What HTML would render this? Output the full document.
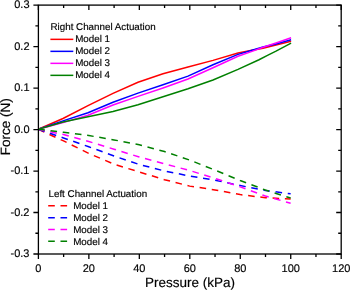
<!DOCTYPE html>
<html><head><meta charset="utf-8"><style>
html,body{margin:0;padding:0;background:#fff;}
body{width:350px;height:290px;overflow:hidden;}
svg{display:block;will-change:transform;text-rendering:geometricPrecision;font-family:"Liberation Sans",sans-serif;}
.tk{font-size:11px;fill:#000;stroke:#000;stroke-width:0.15px;}
.lg{font-size:9.8px;fill:#000;stroke:#000;stroke-width:0.15px;}
.tt{font-size:13.5px;fill:#000;stroke:#000;stroke-width:0.15px;}
</style></head><body>
<svg width="350" height="290" viewBox="0 0 350 290">
<rect width="350" height="290" fill="#fff"/>
<polyline points="38.30,129.30 63.00,118.50 88.00,105.60 113.00,93.40 138.00,82.20 163.00,73.70 188.00,67.00 213.00,60.40 238.00,53.00 252.00,50.30 263.00,48.20 276.00,45.00 291.10,41.30" fill="none" stroke="#ff0000" stroke-width="1.5"/><polyline points="38.30,129.30 63.00,120.90 88.00,112.70 113.00,102.30 138.00,93.10 163.00,84.80 188.00,76.10 213.00,64.80 238.00,54.40 252.00,50.20 263.00,46.90 276.00,43.90 291.10,39.70" fill="none" stroke="#0000ff" stroke-width="1.5"/><polyline points="38.30,129.30 63.00,122.60 88.00,115.20 113.00,105.00 138.00,96.40 163.00,88.00 188.00,79.00 213.00,67.70 238.00,56.20 252.00,51.40 263.00,47.20 276.00,43.00 291.10,37.80" fill="none" stroke="#ff00ff" stroke-width="1.5"/><polyline points="38.30,129.30 63.00,122.00 88.00,116.80 113.00,111.50 138.00,104.70 163.00,96.70 188.00,88.70 213.00,80.00 238.00,69.40 259.00,59.70 267.50,55.40 276.00,51.20 291.10,43.10" fill="none" stroke="#008000" stroke-width="1.5"/><polyline points="38.30,129.30 63.53,140.93 88.77,153.38 114.00,164.17 139.24,171.99 164.47,179.66 189.70,186.12 214.94,189.89 240.17,194.60 265.41,197.70 290.64,199.07" fill="none" stroke="#ff0000" stroke-width="1.5" stroke-dasharray="6.6 5.7"/><polyline points="38.30,129.30 63.53,137.93 88.77,146.76 114.00,155.99 139.24,164.45 164.47,170.95 189.70,176.04 214.94,180.21 240.17,185.54 265.41,190.54 290.64,193.84" fill="none" stroke="#0000ff" stroke-width="1.5" stroke-dasharray="6.6 5.7"/><polyline points="38.30,129.30 63.53,134.57 88.77,141.53 114.00,149.21 139.24,156.98 164.47,163.76 189.70,170.54 214.94,178.36 240.17,186.90 265.41,196.06 290.64,203.25" fill="none" stroke="#ff00ff" stroke-width="1.5" stroke-dasharray="6.6 5.7"/><polyline points="38.30,129.30 63.53,132.25 88.77,135.52 114.00,139.89 139.24,144.77 164.47,151.55 189.70,160.09 214.94,170.07 240.17,180.47 265.41,190.03 290.64,198.04" fill="none" stroke="#008000" stroke-width="1.5" stroke-dasharray="6.6 5.7"/>
<rect x="38.4" y="5.1" width="302.80" height="248.90" fill="none" stroke="#000" stroke-width="1.3"/><path d="M38.40,254.00v5 M38.40,5.10v5 M63.63,254.00v3 M63.63,5.10v3 M88.87,254.00v5 M88.87,5.10v5 M114.10,254.00v3 M114.10,5.10v3 M139.33,254.00v5 M139.33,5.10v5 M164.57,254.00v3 M164.57,5.10v3 M189.80,254.00v5 M189.80,5.10v5 M215.03,254.00v3 M215.03,5.10v3 M240.27,254.00v5 M240.27,5.10v5 M265.50,254.00v3 M265.50,5.10v3 M290.73,254.00v5 M290.73,5.10v5 M315.97,254.00v3 M315.97,5.10v3 M341.20,254.00v5 M341.20,5.10v5 M38.40,254.00h-5 M341.20,254.00h-5 M38.40,233.26h-3 M341.20,233.26h-3 M38.40,212.52h-5 M341.20,212.52h-5 M38.40,191.78h-3 M341.20,191.78h-3 M38.40,171.03h-5 M341.20,171.03h-5 M38.40,150.29h-3 M341.20,150.29h-3 M38.40,129.55h-5 M341.20,129.55h-5 M38.40,108.81h-3 M341.20,108.81h-3 M38.40,88.07h-5 M341.20,88.07h-5 M38.40,67.32h-3 M341.20,67.32h-3 M38.40,46.58h-5 M341.20,46.58h-5 M38.40,25.84h-3 M341.20,25.84h-3 M38.40,5.10h-5 M341.20,5.10h-5" stroke="#000" stroke-width="1.3" fill="none"/>
<g class="tk"><text x="38.40" y="271.5" text-anchor="middle">0</text><text x="88.87" y="271.5" text-anchor="middle">20</text><text x="139.33" y="271.5" text-anchor="middle">40</text><text x="189.80" y="271.5" text-anchor="middle">60</text><text x="240.27" y="271.5" text-anchor="middle">80</text><text x="290.73" y="271.5" text-anchor="middle">100</text><text x="341.20" y="271.5" text-anchor="middle">120</text><text x="29.5" y="257.30" text-anchor="end">-0.3</text><text x="29.5" y="215.82" text-anchor="end">-0.2</text><text x="29.5" y="174.33" text-anchor="end">-0.1</text><text x="29.5" y="132.85" text-anchor="end">0.0</text><text x="29.5" y="91.37" text-anchor="end">0.1</text><text x="29.5" y="49.88" text-anchor="end">0.2</text><text x="29.5" y="8.40" text-anchor="end">0.3</text></g>
<text x="50.5" y="30" class="lg">Right Channel Actuation</text><line x1="50.4" y1="39.35" x2="73.3" y2="39.35" stroke="#ff0000" stroke-width="1.5"/><text x="75.2" y="42.40" class="lg">Model 1</text><line x1="50.4" y1="51.35" x2="73.3" y2="51.35" stroke="#0000ff" stroke-width="1.5"/><text x="75.2" y="54.40" class="lg">Model 2</text><line x1="50.4" y1="63.35" x2="73.3" y2="63.35" stroke="#ff00ff" stroke-width="1.5"/><text x="75.2" y="66.40" class="lg">Model 3</text><line x1="50.4" y1="75.35" x2="73.3" y2="75.35" stroke="#008000" stroke-width="1.5"/><text x="75.2" y="78.40" class="lg">Model 4</text><text x="48.5" y="197.3" class="lg">Left Channel Actuation</text><line x1="48.2" y1="205.80" x2="72" y2="205.80" stroke="#ff0000" stroke-width="1.5" stroke-dasharray="6.6 5.7"/><text x="73.2" y="209.00" class="lg">Model 1</text><line x1="48.2" y1="217.65" x2="72" y2="217.65" stroke="#0000ff" stroke-width="1.5" stroke-dasharray="6.6 5.7"/><text x="73.2" y="220.85" class="lg">Model 2</text><line x1="48.2" y1="229.50" x2="72" y2="229.50" stroke="#ff00ff" stroke-width="1.5" stroke-dasharray="6.6 5.7"/><text x="73.2" y="232.70" class="lg">Model 3</text><line x1="48.2" y1="241.35" x2="72" y2="241.35" stroke="#008000" stroke-width="1.5" stroke-dasharray="6.6 5.7"/><text x="73.2" y="244.55" class="lg">Model 4</text>
<text x="190" y="287" text-anchor="middle" class="tt">Pressure (kPa)</text><text transform="translate(10.3,126.8) rotate(-90)" text-anchor="middle" class="tt">Force (N)</text>
</svg>
</body></html>
